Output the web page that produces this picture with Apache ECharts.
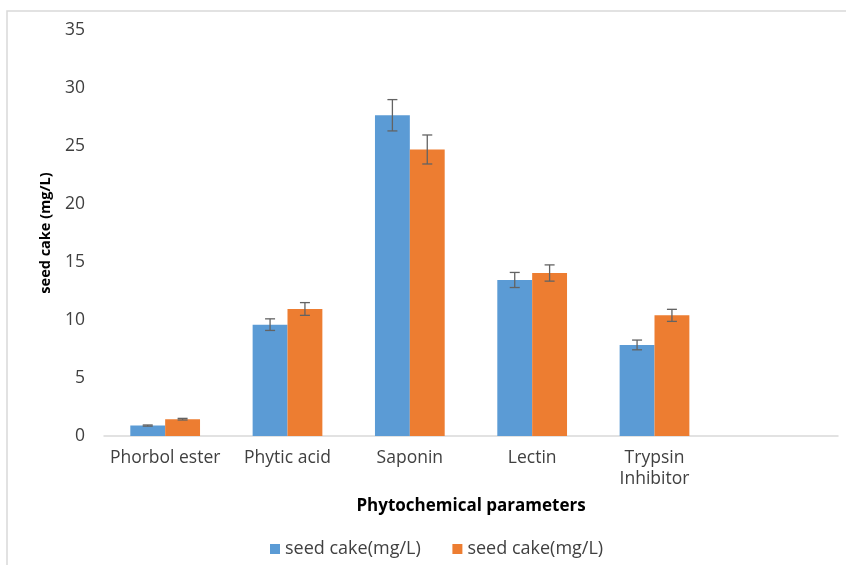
<!DOCTYPE html>
<html>
<head>
<meta charset="utf-8">
<script src="https://cdn.jsdelivr.net/npm/echarts@6/dist/echarts.min.js"></script>
<style>
html,body{margin:0;padding:0;background:#fff;}
#main{width:846px;height:565px;}
</style>
</head>
<body>
<div id="main"></div>
<script>
// 类别 (last one is empty, as in the original)
var categories = ['Phorbol ester', 'Phytic acid', 'Saponin', 'Lectin', 'Trypsin\nInhibitor', ''];
var seriesA = [0.9, 9.6, 27.65, 13.45, 7.85];   // blue
var seriesB = [1.45, 10.95, 24.7, 14.05, 10.4]; // orange
var errA = [0.05, 0.5, 1.35, 0.65, 0.42];
var errB = [0.07, 0.55, 1.25, 0.7, 0.52];
var seriesName = 'seed cake(mg/L)';
var yTicks = {min: 0, max: 35, interval: 5};

var font = '"Open Sans", "DejaVu Sans", sans-serif';
var catGap = 0.43;

// 误差线
function errorBar(values, errs, side) {
    return {
        type: 'custom',
        z: 5,
        silent: true,
        data: values.map(function (v, i) { return [i, v, errs[i]]; }),
        renderItem: function (params, api) {
            var i = api.value(0), v = api.value(1), e = api.value(2);
            var band = api.size([1, 0])[0];
            var off = side * band * (1 - catGap) / 4;
            var hi = api.coord([i, v + e]);
            var lo = api.coord([i, v - e]);
            var x = hi[0] + off;
            var cap = 5;
            var st = {stroke: '#636363', lineWidth: 1.3};
            return {
                type: 'group',
                children: [
                    {type: 'line', shape: {x1: x, y1: hi[1], x2: x, y2: lo[1]}, style: st},
                    {type: 'line', shape: {x1: x - cap, y1: hi[1], x2: x + cap, y2: hi[1]}, style: st},
                    {type: 'line', shape: {x1: x - cap, y1: lo[1], x2: x + cap, y2: lo[1]}, style: st}
                ]
            };
        }
    };
}

var chart = echarts.init(document.getElementById('main'));
var option = {
    animation: false,
    backgroundColor: '#fff',
    color: ['#5B9BD5', '#ED7D31'],
    graphic: [{
        type: 'rect',
        shape: {x: 7, y: 11, width: 860, height: 580},
        style: {fill: 'none', stroke: '#d9d9d9', lineWidth: 1.5},
        silent: true
    }],
    grid: {left: 104, right: 8, top: 30, bottom: 129},
    legend: {
        left: 265,
        top: 535,
        itemWidth: 10,
        itemHeight: 10,
        itemGap: 27,
        icon: 'rect',
        textStyle: {fontFamily: font, fontSize: 18, color: '#404040'},
        data: [{name: seriesName + ' '}, {name: seriesName}]
    },
    xAxis: {
        type: 'category',
        data: categories,
        name: 'Phytochemical parameters',
        nameLocation: 'middle',
        nameGap: 62,
        nameTextStyle: {fontFamily: font, fontSize: 17, fontWeight: 'bold', color: '#000'},
        axisLine: {lineStyle: {color: '#d9d9d9', width: 1.5}},
        axisTick: {show: false},
        axisLabel: {fontFamily: font, fontSize: 17.5, color: '#404040', margin: 12, lineHeight: 21, interval: 0}
    },
    yAxis: {
        type: 'value',
        min: yTicks.min,
        max: yTicks.max,
        interval: yTicks.interval,
        name: 'seed cake (mg/L)',
        nameLocation: 'middle',
        nameGap: 51,
        nameTextStyle: {fontFamily: font, fontSize: 14.5, fontWeight: 'bold', color: '#000'},
        axisLine: {show: false},
        axisTick: {show: false},
        splitLine: {show: false},
        axisLabel: {fontFamily: font, fontSize: 17.5, color: '#404040', margin: 19}
    },
    series: [
        {name: seriesName + ' ', type: 'bar', data: seriesA, barGap: '0%', barCategoryGap: '43%'},
        {name: seriesName, type: 'bar', data: seriesB, barGap: '0%', barCategoryGap: '43%'},
        errorBar(seriesA, errA, -1),
        errorBar(seriesB, errB, 1)
    ]
};
chart.setOption(option);
</script>
</body>
</html>
